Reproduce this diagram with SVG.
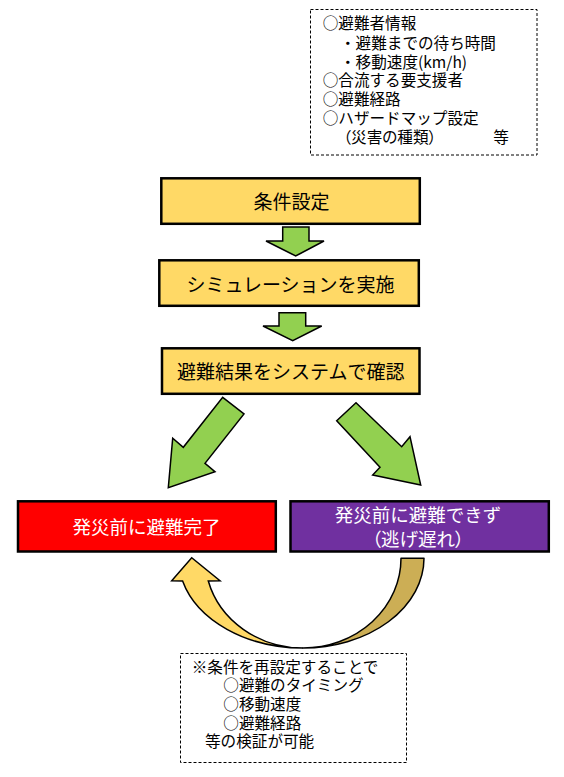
<svg xmlns="http://www.w3.org/2000/svg" width="564" height="777" viewBox="0 0 564 777">
<style>
text{font-family:"Noto Sans CJK JP","Noto Sans CJK SC",sans-serif;}
.note{font-size:15.6px;fill:#000;}
.box{stroke:#000;stroke-width:2.5;}
.gold{fill:#FFD966;}
.lbl{font-size:19px;fill:#000;text-anchor:middle;}
.wlbl{font-size:18.5px;fill:#fff;text-anchor:middle;}
.dash{fill:#fff;stroke:#000;stroke-width:1;stroke-dasharray:3 2;}
.garrow{fill:#92D050;stroke:#000;stroke-width:1.5;stroke-linejoin:miter;}
.palt{font-feature-settings:"palt";}
</style>
<rect width="564" height="777" fill="#fff"/>

<g id="note-conditions">
<rect class="dash" x="310.5" y="9.5" width="226.5" height="145.5"/>
<text class="note" x="322.7" y="29.2">○避難者情報</text>
<text class="note" x="340" y="48.9">・避難までの待ち時間</text>
<text class="note" x="340" y="67.6">・移動速度(km/h)</text>
<text class="note" x="322.7" y="85.9">○合流する要支援者</text>
<text class="note" x="322.7" y="104.9">○避難経路</text>
<text class="note" x="322.7" y="123.6">○ハザードマップ設定</text>
<text class="note palt" x="343.3" y="142.9">（災害の種類）</text>
<text class="note" x="493.3" y="142.9">等</text>
</g>

<g id="node-settings">
<rect class="box gold" x="161.3" y="178.3" width="258.5" height="45.5"/>
<text class="lbl" x="291.5" y="208.9">条件設定</text>
</g>

<g id="node-simulation">
<rect class="box gold" x="159.3" y="260.3" width="259.5" height="45.5"/>
<text class="lbl" x="290.5" y="292.2">シミュレーションを実施</text>
</g>

<g id="node-check">
<rect class="box gold" x="162" y="348.3" width="257.5" height="45.5"/>
<text class="lbl" x="290.8" y="378.9">避難結果をシステムで確認</text>
</g>

<g id="node-complete">
<rect class="box" fill="#FF0000" x="18" y="501.3" width="257.8" height="50.2"/>
<text class="wlbl" x="146.5" y="533.7">発災前に避難完了</text>
</g>

<g id="node-failed">
<rect class="box" fill="#7030A0" x="290.5" y="501.3" width="258.3" height="50.2"/>
<text class="wlbl" x="418" y="522">発災前に避難できず</text>
<text class="wlbl palt" x="418" y="546.3">（逃げ遅れ）</text>
</g>

<g id="connectors">
<polygon class="garrow" points="282.7,227 309,227 309,241 324,241 295.7,256 266,241 282.7,241"/>
<polygon class="garrow" points="279,312.7 305.7,312.7 305.7,326 321.7,326 292.7,340.7 263,326 279,326"/>
<polygon class="garrow" points="222.7,397.3 244,414 205,463.3 215,471.7 168.3,487.7 172.7,438.3 183.3,447.3"/>
<polygon class="garrow" points="356,402.7 336.7,420.7 380,467.3 372.7,475 420.7,485 410,436.7 401.7,446.7"/>
<path fill="#CCAE55" stroke="#000" stroke-width="1.5" stroke-linejoin="round" d="M401,558.3 L424,558.3 A121 90 0 0 1 303,648 A98 89.7 0 0 0 401,558.3 Z"/>
<path fill="#FFD966" stroke="#000" stroke-width="1.5" stroke-linejoin="miter" d="M182.6,581 A124.5 90 0 0 0 303,648 A98 90 0 0 1 208.3,581 L220,580.7 L191.7,557.7 L171.7,580.7 Z"/>
</g>

<g id="note-recheck">
<rect class="dash" x="180.5" y="653.5" width="226" height="109"/>
<text class="note" x="191.7" y="673.4">※条件を再設定することで</text>
<text class="note" x="223.3" y="691.4">○避難のタイミング</text>
<text class="note" x="223.3" y="709.9">○移動速度</text>
<text class="note" x="223.3" y="728.9">○避難経路</text>
<text class="note" x="205" y="746.6">等の検証が可能</text>
</g>
</svg>
